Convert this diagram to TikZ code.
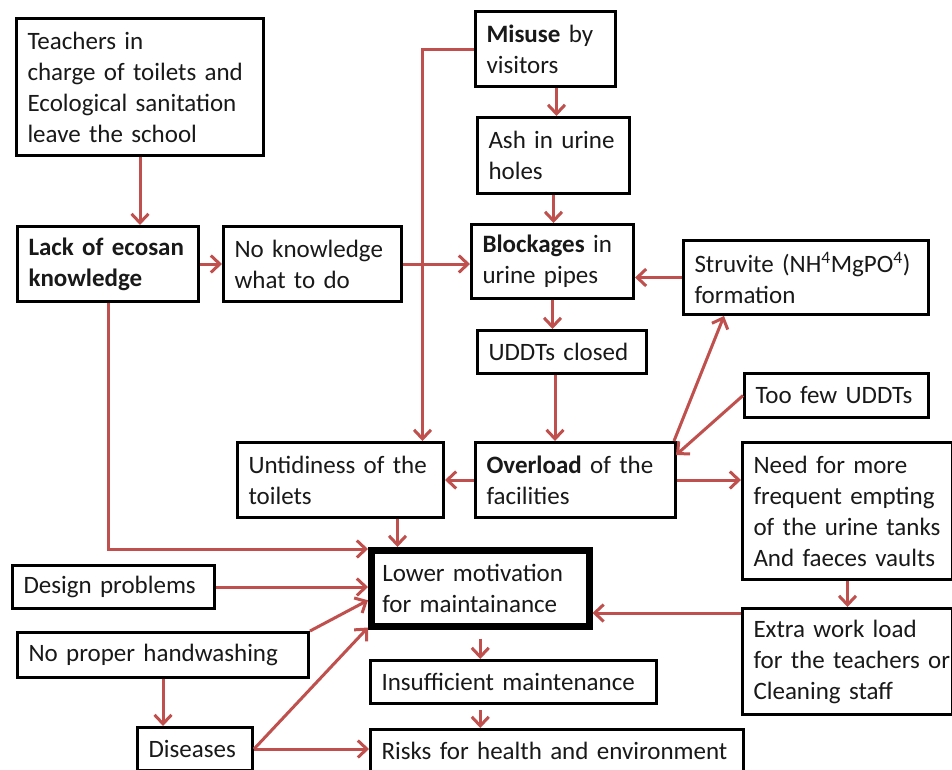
\documentclass[tikz,border=0pt]{standalone}
\usepackage{fontspec}
\setmainfont{Carlito}
\usetikzlibrary{arrows.meta}
\definecolor{arrred}{HTML}{C0504D}
\tikzset{
  box/.style={draw=black, line width=3pt, inner xsep=11pt, inner ysep=0pt, align=left, anchor=north west,
    font=\fontsize{25}{31}\selectfont, text=black!90},
  arr/.style={draw=arrred, line width=3pt, -{Straight Barb[length=9pt,width=17pt]}}
}
\begin{document}
\begin{tikzpicture}[x=1pt,y=-1pt]
\useasboundingbox (0,0) rectangle (952,769);
\fill[white] (0,0) rectangle (952,769);
% boxes
\node[box, minimum width=247, minimum height=137, text width=225] (teach) at (15,17) {Teachers in\\\mbox{charge of toilets and}\\\mbox{Ecological sanitation}\\leave the school};
\node[box, minimum width=181, minimum height=75, text width=159] (lack) at (16,225) {\textbf{Lack of ecosan}\\\textbf{knowledge}};
\node[box, minimum width=178, minimum height=75, text width=156] (noknow) at (222,225) {\mbox{No knowledge}\\what to do};
\node[box, minimum width=140, minimum height=75, text width=118] (misuse) at (474,10) {\mbox{\textbf{Misuse} by}\\visitors};
\node[box, minimum width=152, minimum height=76, text width=130] (ash) at (476,116) {\mbox{Ash in urine}\\holes};
\node[box, minimum width=162, minimum height=74, text width=140] (block) at (470,223) {\mbox{\textbf{Blockages} in}\\urine pipes};
\node[box, minimum width=245, minimum height=74, text width=223] (struv) at (682,239) {\mbox{Struvite (NH\textsuperscript{4}MgPO\textsuperscript{4})}\\formation};
\node[box, minimum width=169, minimum height=43, text width=147] (closed) at (476,329) {UDDTs closed};
\node[box, minimum width=184, minimum height=44, text width=162] (toofew) at (743,372) {\mbox{Too few UDDTs}};
\node[box, minimum width=200, minimum height=75, text width=178] (over) at (474,441) {\mbox{\textbf{Overload} of the}\\facilities};
\node[box, minimum width=210, minimum height=137, text width=188] (need) at (741,441) {Need for more\\\mbox{frequent empting}\\\mbox{of the urine tanks}\\\mbox{And faeces vaults}};
\node[box, minimum width=210, minimum height=106, text width=188] (extra) at (741,607) {Extra work load\\\mbox{for the teachers or}\\Cleaning staff};
\node[box, minimum width=206, minimum height=75, text width=184] (untidy) at (236,441) {\mbox{Untidiness of the}\\toilets};
\node[box, line width=6.5pt, minimum width=218, minimum height=76, text width=196] (lower) at (368,547) {\mbox{Lower motivation}\\\mbox{for maintainance}};
\node[box, minimum width=202, minimum height=43, text width=180] (design) at (11,564) {\mbox{Design problems}};
\node[box, minimum width=291, minimum height=45, text width=269] (hand) at (16,631) {\mbox{No proper handwashing}};
\node[box, minimum width=115, minimum height=43, text width=93] (dis) at (136,726) {Diseases};
\node[box, minimum width=286, minimum height=43, text width=264] (insuf) at (369,659) {\mbox{Insufficient maintenance}};
\node[box, minimum width=373, minimum height=43, text width=351] (risks) at (369,728) {\mbox{Risks for health and environment}};
% connectors
\draw[arr] (teach.south) -- (teach.south |- lack.north);
\draw[arr] (lack.east) -- (lack.east -| noknow.west);
\draw[arr] (noknow.east) -- (noknow.east -| block.west);
\draw[arr] (misuse.west) -| ([xshift=82pt]untidy.north);
\draw[arr] ([xshift=11pt]misuse.south) -- ([xshift=11pt]misuse.south |- ash.north);
\draw[arr] (ash.south) -- (ash.south |- block.north);
\draw[arr] (struv.west) -- (struv.west -| block.east);
\draw[arr] (block.south) -- (block.south |- closed.north);
\draw[arr] ([xshift=-7pt]closed.south) -- ([xshift=-7pt]closed.south |- over.north);
\draw[arr] ([xshift=-3pt]over.north east) -- ([xshift=-82pt]struv.south);
\draw[arr] (toofew.west) -- ([xshift=-1pt,yshift=-14pt]over.north east);
\draw[arr] (over.east) -- (over.east -| need.west);
\draw[arr] (over.west) -- (over.west -| untidy.east);
\draw[arr] ([xshift=57pt]untidy.south) -- ([xshift=57pt]untidy.south |- lower.north);
\draw[arr] (lack.south) |- ([yshift=-2pt]lower.north west);
\draw[arr] (design.east) -- (design.east -| lower.west);
\draw[arr] (hand.north east) -- ([yshift=-12pt]lower.west);
\draw[arr] (hand.south) -- (hand.south |- dis.north);
\draw[arr] (dis.east) -- ([yshift=2pt]lower.south west);
\draw[arr] (dis.east) -- (dis.east -| risks.west);
\draw[arr, shorten <=9pt] (lower.south) -- (lower.south |- insuf.north);
\draw[arr, shorten <=5pt] (lower.south |- insuf.south) -- (lower.south |- risks.north);
\draw[arr] (need.south) -- (need.south |- extra.north);
\draw[arr] ([yshift=-6pt]extra.north west) -- ([yshift=-6pt]extra.north west -| lower.east);
\end{tikzpicture}
\end{document}
